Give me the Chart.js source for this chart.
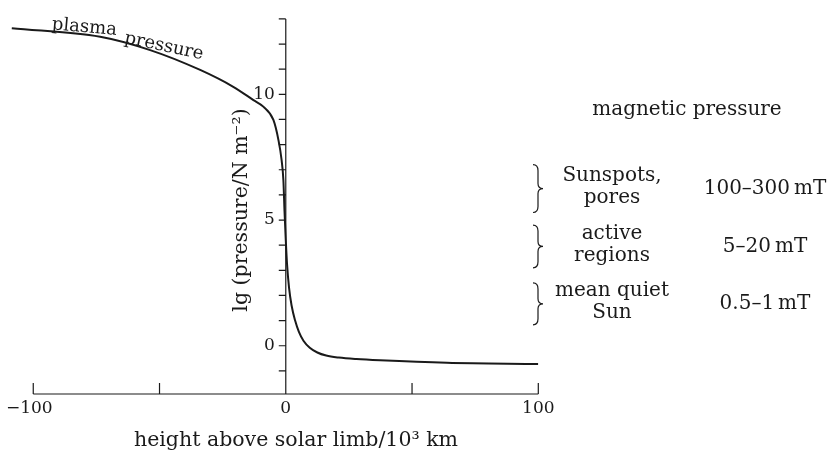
<!DOCTYPE html>
<html lang="en">
<head>
    <meta charset="UTF-8">
    <title>Plasma and magnetic pressure above the solar limb</title>
    <style>
        html, body { margin: 0; padding: 0; background: #fff; }
        #wrap { width: 829px; height: 455px; }
    </style>
</head>
<body>

    <div id="wrap"><canvas id="pressureChart" width="829" height="455"></canvas></div>

    <script src="https://cdn.jsdelivr.net/npm/chart.js"></script>

    <script>
        // curve: height (10^3 km) vs lg(pressure / N m^-2)
        const heights    = [-108.5, -73.5, -53.7, -33.9, -20.8, -12.8, -8.9, -4.9, -2.9, -1.66, -0.95, -0.5, 0, 0.5, 1.3, 2.3, 3.7, 5.2, 7, 9.5, 12.5, 16, 21, 28, 37.3, 63.8, 100];
        const lgPressure = [12.63, 12.29, 11.76, 10.97, 10.30, 9.77, 9.51, 8.98, 8.18, 7.39, 6.59, 5.35, 4.2, 3.25, 2.3, 1.6, 1.0, 0.55, 0.2, -0.08, -0.27, -0.39, -0.47, -0.53, -0.58, -0.68, -0.73];

        const xTicks = [-100, -50, 0, 50, 100];
        const yTicks = [-1, 0, 1, 2, 3, 4, 5, 6, 7, 8, 9, 10, 11, 12, 13];
        const yLabelled = [0, 5, 10];

        // magnetic pressure bands (bracket span in lg units)
        const regionNames = [['Sunspots,', 'pores'], ['active', 'regions'], ['mean quiet', 'Sun']];
        const fieldRanges = ['100\u2013300\u2009mT', '5\u201320\u2009mT', '0.5\u20131\u2009mT'];
        const bracketTop    = [7.2, 4.8, 2.5];
        const bracketBottom = [5.3, 3.1, 0.83];

        const ink = '#1a1a1a';
        const serif = '"DejaVu Serif", "Liberation Serif", serif';

        const axesPlugin = {
            id: 'axesPlugin',
            afterDraw(chart) {
                const ctx = chart.ctx;
                const xs = chart.scales.x, ys = chart.scales.y;
                const x0 = xs.getPixelForValue(0);
                const yBase = ys.getPixelForValue(ys.min);
                ctx.save();
                ctx.strokeStyle = ink;
                ctx.fillStyle = ink;
                ctx.lineWidth = 1.2;

                // x axis with upward ticks
                ctx.beginPath();
                ctx.moveTo(xs.getPixelForValue(-100), yBase);
                ctx.lineTo(xs.getPixelForValue(100), yBase);
                xTicks.forEach(v => {
                    const px = xs.getPixelForValue(v);
                    ctx.moveTo(px, yBase);
                    ctx.lineTo(px, yBase - 11);
                });
                // y axis with ticks on the left
                ctx.moveTo(x0, yBase);
                ctx.lineTo(x0, ys.getPixelForValue(13));
                yTicks.forEach(v => {
                    const py = ys.getPixelForValue(v);
                    ctx.moveTo(x0, py);
                    ctx.lineTo(x0 - 7, py);
                });
                ctx.stroke();

                ctx.font = '17px ' + serif;
                ctx.textBaseline = 'middle';
                ctx.textAlign = 'center';
                xTicks.filter(v => v % 100 === 0).forEach(v => {
                    const txt = v < 0 ? '\u2212' + Math.abs(v) : String(v);
                    const off = v < 0 ? -4 : 0;
                    ctx.fillText(txt, xs.getPixelForValue(v) + off, yBase + 15);
                });
                ctx.textAlign = 'right';
                yLabelled.forEach(v => {
                    ctx.fillText(String(v), x0 - 11, ys.getPixelForValue(v));
                });

                // axis titles
                ctx.font = '20.5px ' + serif;
                ctx.textAlign = 'center';
                ctx.fillText('height above solar limb/10\u00b3 km', 296, 441);
                ctx.save();
                ctx.translate(242, 210);
                ctx.rotate(-Math.PI / 2);
                ctx.fillText('lg (pressure/N m\u207b\u00b2)', 0, 0);
                ctx.restore();

                // curve label
                ctx.font = '18px ' + serif;
                ctx.textBaseline = 'alphabetic';
                ctx.save();
                ctx.translate(84, 32);
                ctx.rotate(5 * Math.PI / 180);
                ctx.fillText('plasma', 0, 0);
                ctx.restore();
                ctx.save();
                ctx.translate(163, 51);
                ctx.rotate(12 * Math.PI / 180);
                ctx.fillText('pressure', 0, 0);
                ctx.restore();

                // magnetic pressure column
                ctx.font = '20px ' + serif;
                ctx.textBaseline = 'middle';
                ctx.fillText('magnetic pressure', 687, 110);
                regionNames.forEach((lines, i) => {
                    const top = ys.getPixelForValue(bracketTop[i]);
                    const bot = ys.getPixelForValue(bracketBottom[i]);
                    const mid = (top + bot) / 2;
                    const bx = 533;
                    ctx.beginPath();
                    ctx.moveTo(bx, top);
                    ctx.quadraticCurveTo(bx + 5, top, bx + 5, top + 6);
                    ctx.lineTo(bx + 5, mid - 5);
                    ctx.quadraticCurveTo(bx + 5, mid, bx + 10, mid);
                    ctx.quadraticCurveTo(bx + 5, mid, bx + 5, mid + 5);
                    ctx.lineTo(bx + 5, bot - 6);
                    ctx.quadraticCurveTo(bx + 5, bot, bx, bot);
                    ctx.lineWidth = 1.2;
                    ctx.stroke();

                    ctx.fillText(lines[0], 612, mid - 13);
                    ctx.fillText(lines[1], 612, mid + 9);
                    ctx.fillText(fieldRanges[i], 765, mid);
                });
                ctx.restore();
            }
        };

        const ctx = document.getElementById('pressureChart').getContext('2d');
        const pressureChart = new Chart(ctx, {
            type: 'line',
            data: {
                datasets: [{
                    label: 'plasma pressure',
                    data: heights.map((h, i) => ({ x: h, y: lgPressure[i] })),
                    borderColor: ink,
                    borderWidth: 2,
                    pointRadius: 0,
                    cubicInterpolationMode: 'monotone',
                    fill: false
                }]
            },
            options: {
                responsive: false,
                animation: false,
                layout: {
                    padding: { left: 8, right: 290.7, top: 18.9, bottom: 61 }
                },
                scales: {
                    x: { type: 'linear', min: -110, max: 100, display: false },
                    y: { type: 'linear', min: -1.92, max: 13, display: false }
                },
                plugins: {
                    legend: { display: false },
                    tooltip: { enabled: false }
                }
            },
            plugins: [axesPlugin]
        });
    </script>

</body>
</html>
